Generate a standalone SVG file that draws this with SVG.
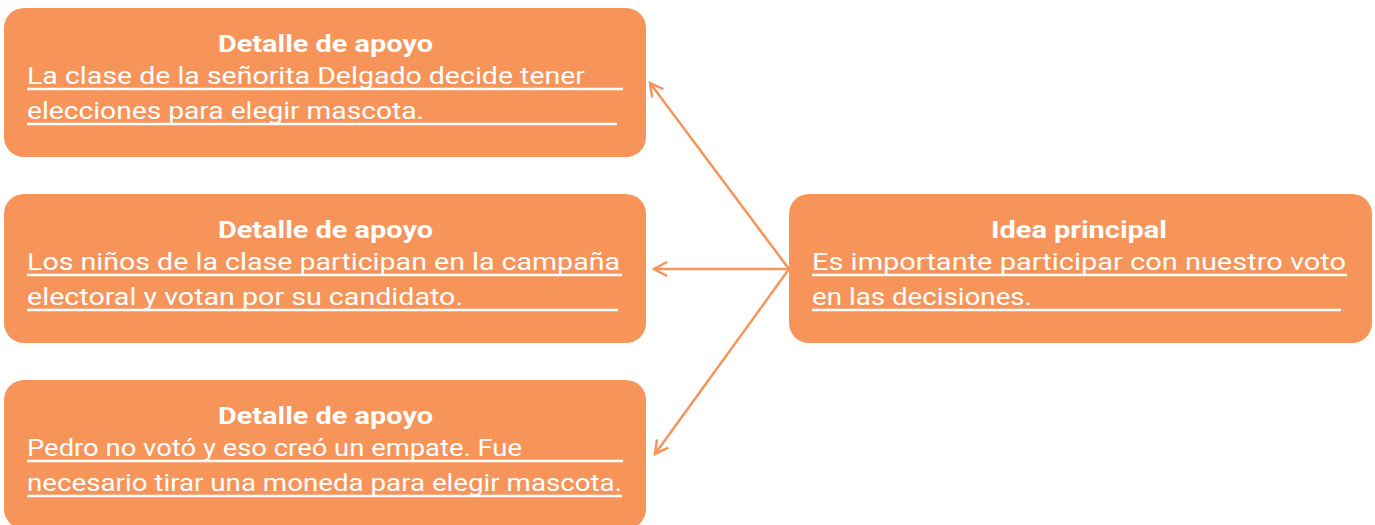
<svg xmlns="http://www.w3.org/2000/svg" width="1375" height="525" viewBox="0 0 1375 525">
<style>
.box{fill:#F6945A;}
.t{font-family:Roboto,"Liberation Sans",Arial,sans-serif;font-size:23px;font-weight:bold;fill:#fff;text-anchor:middle;}
.b{font-family:Roboto,"Liberation Sans",Arial,sans-serif;font-size:23px;fill:#fff;}
.u{stroke:#fff;stroke-width:2.4;}
.c{stroke:#F6945A;stroke-width:2.5;fill:none;marker-end:url(#ah);}
</style>
<defs>
<marker id="ah" markerUnits="userSpaceOnUse" markerWidth="20" markerHeight="20" refX="14" refY="8" orient="auto" viewBox="0 0 20 16">
<path d="M1,1 L14,8 L1,15" fill="none" stroke="#F6945A" stroke-width="2.5"/>
</marker>
</defs>
<rect width="1375" height="525" fill="#fff"/>
<g id="connectors">
<line class="c" x1="789" y1="269" x2="650" y2="83"/>
<line class="c" x1="789" y1="269" x2="654" y2="269"/>
<line class="c" x1="789" y1="269" x2="655" y2="454"/>
</g>
<g id="node1">
<rect class="box" x="4" y="8" width="642" height="149" rx="20"/>
<text class="t" x="325.5" y="52" textLength="215" lengthAdjust="spacingAndGlyphs">Detalle de apoyo</text>
<text class="b" x="27" y="84" textLength="558" lengthAdjust="spacingAndGlyphs">La clase de la señorita Delgado decide tener</text>
<line class="u" x1="27" y1="89" x2="623" y2="89"/>
<text class="b" x="27" y="119" textLength="397" lengthAdjust="spacingAndGlyphs">elecciones para elegir mascota.</text>
<line class="u" x1="27" y1="124" x2="617" y2="124"/>
</g>
<g id="node2">
<rect class="box" x="4" y="194" width="642" height="149" rx="20"/>
<text class="t" x="325.5" y="238" textLength="215" lengthAdjust="spacingAndGlyphs">Detalle de apoyo</text>
<text class="b" x="27" y="270" textLength="593" lengthAdjust="spacingAndGlyphs">Los niños de la clase participan en la campaña</text>
<line class="u" x1="27" y1="275" x2="622" y2="275"/>
<text class="b" x="27" y="305" textLength="436" lengthAdjust="spacingAndGlyphs">electoral y votan por su candidato.</text>
<line class="u" x1="27" y1="310" x2="618" y2="310"/>
</g>
<g id="node3">
<rect class="box" x="4" y="380" width="642" height="149" rx="20"/>
<text class="t" x="325.5" y="424" textLength="215" lengthAdjust="spacingAndGlyphs">Detalle de apoyo</text>
<text class="b" x="27" y="456" textLength="495" lengthAdjust="spacingAndGlyphs">Pedro no votó y eso creó un empate. Fue</text>
<line class="u" x1="27" y1="461" x2="623" y2="461"/>
<text class="b" x="27" y="491" textLength="595" lengthAdjust="spacingAndGlyphs">necesario tirar una moneda para elegir mascota.</text>
<line class="u" x1="27" y1="496" x2="622" y2="496"/>
</g>
<g id="main">
<rect class="box" x="789" y="194" width="583" height="149" rx="20"/>
<text class="t" x="1079" y="238" textLength="176" lengthAdjust="spacingAndGlyphs">Idea principal</text>
<text class="b" x="812" y="270" textLength="534" lengthAdjust="spacingAndGlyphs">Es importante participar con nuestro voto</text>
<line class="u" x1="812" y1="275" x2="1347" y2="275"/>
<text class="b" x="812" y="305" textLength="220" lengthAdjust="spacingAndGlyphs">en las decisiones.</text>
<line class="u" x1="812" y1="310" x2="1341" y2="310"/>
</g>
</svg>
